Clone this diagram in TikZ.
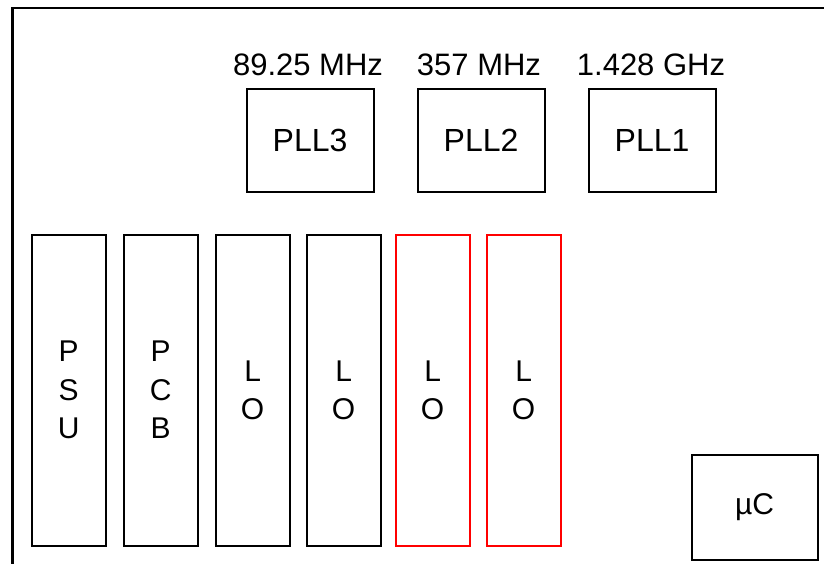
\documentclass[tikz,border=0pt]{standalone}
\usepackage{fontspec}
\setmainfont{Liberation Sans}
\begin{document}
\begin{tikzpicture}[x=1pt,y=-1pt,
  box/.style={draw=black,line width=2.2pt,inner sep=0pt,anchor=north west,align=center},
  redbox/.style={box,draw=red},
  freq/.style={anchor=base,inner sep=0pt,font=\fontsize{31}{36}\selectfont},
  pll/.style={box,minimum width=127pt,minimum height=103pt,font=\fontsize{32}{36}\selectfont},
  tall/.style={minimum width=74pt,minimum height=311pt,font=\fontsize{30}{38.5}\selectfont}]
\useasboundingbox (0,0) rectangle (824,563);
\clip (0,0) rectangle (824,563);
\draw[line width=2.5pt] (12.6,580) -- (12.6,8.2) -- (840,8.2);
% PLL boxes
\node[pll] (pll3) at (245.5,87.5) {PLL3};
\node[pll] (pll2) at (416.5,87.5) {PLL2};
\node[pll] (pll1) at (587.5,87.5) {PLL1};
\node[freq] (f3) at (308,75) {89.25 MHz};
\node[freq] (f2) at (479,75) {357 MHz};
\node[freq] (f1) at (651,75) {1.428 GHz};
% tall boxes
\node[box,tall] (psu) at (30.5,233.5) {P\\S\\U};
\node[box,tall] (pcb) at (122.5,233.5) {P\\C\\B};
\node[box,tall] (lo1) at (214.5,233.5) {L\\O};
\node[box,tall] (lo2) at (305.5,233.5) {L\\O};
\node[redbox,tall] (lo3) at (394.5,233.5) {L\\O};
\node[redbox,tall] (lo4) at (485.5,233.5) {L\\O};
% micro controller
\node[box,minimum width=126pt,minimum height=105pt,font=\fontsize{30}{36}\selectfont] (uc) at (690.5,453.5) {µC};
\end{tikzpicture}
\end{document}
